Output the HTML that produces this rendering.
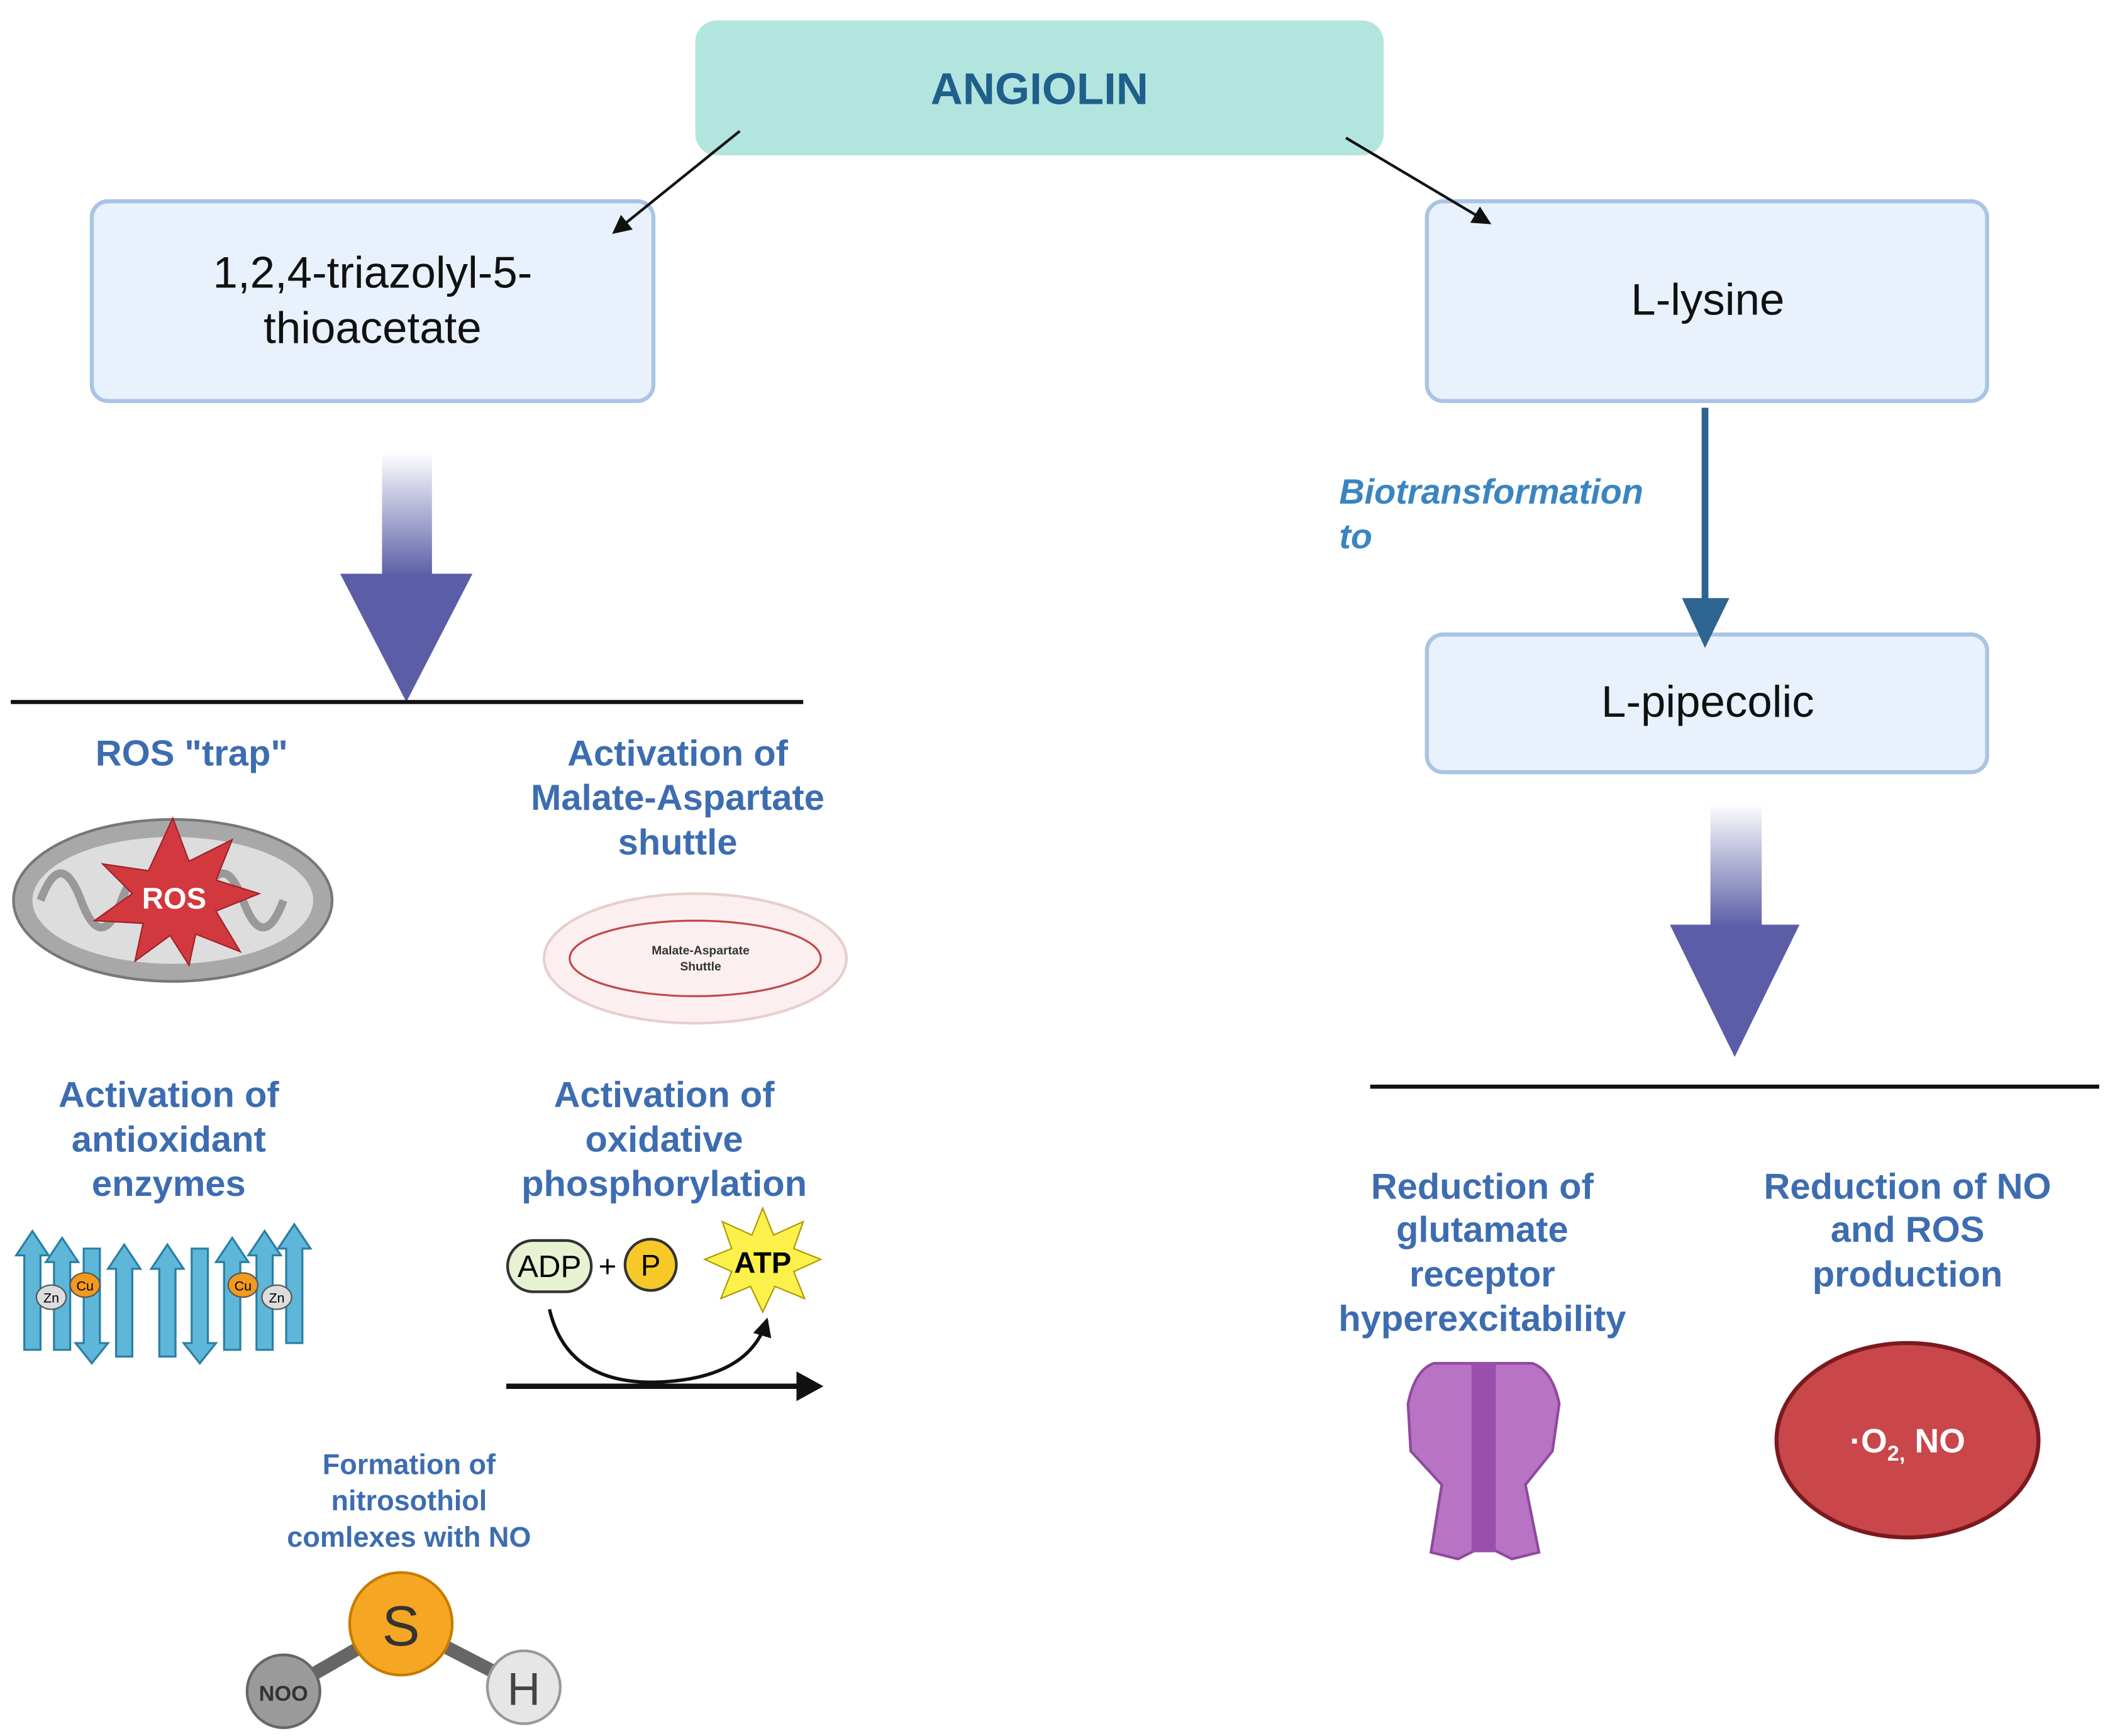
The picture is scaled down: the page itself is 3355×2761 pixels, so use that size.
<!DOCTYPE html>
<html><head><meta charset="utf-8"><style>
html,body{margin:0;padding:0;background:#fff}
svg{display:block}
text{font-family:"Liberation Sans",sans-serif}
.lb{fill:#3d6db0;font-weight:bold;font-size:27px;text-anchor:middle}
</style></head><body>
<svg width="3355" height="2761" viewBox="0 0 1563 1286" xmlns="http://www.w3.org/2000/svg">
<defs>
<linearGradient id="g" x1="0" y1="0" x2="0" y2="1"><stop offset="0" stop-color="#fff"/><stop offset="1" stop-color="#5b5ea6"/></linearGradient>
<marker id="ah" markerWidth="14" markerHeight="14" refX="12" refY="7" orient="auto" markerUnits="userSpaceOnUse"><path d="M0,0 L14,7 L0,14 z" fill="#111"/></marker>
</defs>
<rect width="1563" height="1286" fill="#fff"/>
<!-- ANGIOLIN -->
<rect x="515" y="15" width="510" height="100" rx="16" fill="#b3e5df"/>
<text x="770" y="77" text-anchor="middle" font-size="33" font-weight="bold" fill="#1f5f8b">ANGIOLIN</text>
<!-- boxes -->
<rect x="68" y="149" width="416" height="148" rx="12" fill="#e9f2fc" stroke="#a9c4e4" stroke-width="3"/>
<text x="276" y="213" text-anchor="middle" font-size="33" fill="#111">1,2,4-triazolyl-5-</text>
<text x="276" y="254" text-anchor="middle" font-size="33" fill="#111">thioacetate</text>
<rect x="1057" y="149" width="415" height="148" rx="12" fill="#e9f2fc" stroke="#a9c4e4" stroke-width="3"/>
<text x="1265" y="233" text-anchor="middle" font-size="33" fill="#111">L-lysine</text>
<rect x="1057" y="470" width="415" height="102" rx="12" fill="#e9f2fc" stroke="#a9c4e4" stroke-width="3"/>
<text x="1265" y="531" text-anchor="middle" font-size="33" fill="#111">L-pipecolic</text>
<line x1="548" y1="97" x2="455" y2="172" stroke="#111" stroke-width="2" marker-end="url(#ah)"/>
<line x1="997" y1="102" x2="1103" y2="165" stroke="#111" stroke-width="2" marker-end="url(#ah)"/>
<!-- biotransformation arrow -->
<line x1="1263" y1="302" x2="1263" y2="445" stroke="#2e6490" stroke-width="5"/>
<path d="M1246,443 L1281,443 L1263,480 z" fill="#2e6490"/>
<text x="992" y="373" font-size="26" font-style="italic" font-weight="bold" fill="#3a85c0">Biotransformation</text>
<text x="992" y="406" font-size="26" font-style="italic" font-weight="bold" fill="#3a85c0">to</text>
<!-- big arrows -->
<rect x="283" y="335" width="37" height="92" fill="url(#g)"/>
<path d="M252,425 L350,425 L301,520 z" fill="#5b5ea6"/>
<rect x="1267" y="595" width="38" height="92" fill="url(#g)"/>
<path d="M1237,685 L1333,685 L1285,783 z" fill="#5b5ea6"/>
<line x1="8" y1="520" x2="595" y2="520" stroke="#111" stroke-width="3"/>
<line x1="1015" y1="805" x2="1555" y2="805" stroke="#111" stroke-width="3"/>
<!-- labels -->
<text class="lb" x="142" y="567">ROS "trap"</text>
<text class="lb" x="502" y="567">Activation of</text>
<text class="lb" x="502" y="600">Malate-Aspartate</text>
<text class="lb" x="502" y="633">shuttle</text>
<text class="lb" x="125" y="820">Activation of</text>
<text class="lb" x="125" y="853">antioxidant</text>
<text class="lb" x="125" y="886">enzymes</text>
<text class="lb" x="492" y="820">Activation of</text>
<text class="lb" x="492" y="853">oxidative</text>
<text class="lb" x="492" y="886">phosphorylation</text>
<text class="lb" x="303" y="1092" style="font-size:21px">Formation of</text>
<text class="lb" x="303" y="1119" style="font-size:21px">nitrosothiol</text>
<text class="lb" x="303" y="1146" style="font-size:21px">comlexes with NO</text>
<text class="lb" x="1098" y="888">Reduction of</text>
<text class="lb" x="1098" y="920">glutamate</text>
<text class="lb" x="1098" y="953">receptor</text>
<text class="lb" x="1098" y="986">hyperexcitability</text>
<text class="lb" x="1413" y="888">Reduction of NO</text>
<text class="lb" x="1413" y="920">and ROS</text>
<text class="lb" x="1413" y="953">production</text>
<!-- ROS mitochondrion -->
<ellipse cx="128" cy="667" rx="118" ry="60" fill="#a8a8a8" stroke="#777" stroke-width="2"/>
<ellipse cx="128" cy="667" rx="104" ry="47" fill="#ddd"/>
<path d="M30,667 q15,-40 30,0 q15,40 30,0 q15,-40 30,0 q15,40 30,0 q15,-40 30,0 q15,40 30,0" fill="none" stroke="#999" stroke-width="6"/>
<path d="M128,606 L140,638 L172,622 L160,652 L192,662 L160,675 L178,705 L145,692 L140,715 L126,693 L100,712 L106,684 L70,682 L98,662 L76,640 L110,645 z" fill="#d2393f" stroke="#a02028"/>
<text x="129" y="673" text-anchor="middle" font-size="22" font-weight="bold" fill="#fff">ROS</text>
<!-- Malate mitochondrion -->
<ellipse cx="515" cy="710" rx="112" ry="48" fill="#fbf0ef" stroke="#e6cfcc" stroke-width="2"/>
<ellipse cx="515" cy="710" rx="93" ry="28" fill="none" stroke="#c24a4a" stroke-width="1.5"/>
<text x="519" y="707" text-anchor="middle" font-size="9" font-weight="bold" fill="#333">Malate-Aspartate</text>
<text x="519" y="719" text-anchor="middle" font-size="9" font-weight="bold" fill="#333">Shuttle</text>
<!-- enzymes -->
<g fill="#5eb6d8" stroke="#2a7fa5" stroke-width="1.5">
<path d="M18,1000 L18,930 L12,930 L24,912 L36,930 L30,930 L30,1000z"/>
<path d="M40,1000 L40,935 L34,935 L46,917 L58,935 L52,935 L52,1000z"/>
<path d="M62,925 L62,995 L56,995 L68,1010 L80,995 L74,995 L74,925z"/>
<path d="M86,1005 L86,940 L80,940 L92,922 L104,940 L98,940 L98,1005z"/>
<path d="M118,1005 L118,940 L112,940 L124,922 L136,940 L130,940 L130,1005z"/>
<path d="M142,925 L142,995 L136,995 L148,1010 L160,995 L154,995 L154,925z"/>
<path d="M166,1000 L166,935 L160,935 L172,917 L184,935 L178,935 L178,1000z"/>
<path d="M190,1000 L190,930 L184,930 L196,912 L208,930 L202,930 L202,1000z"/>
<path d="M212,995 L212,925 L206,925 L218,907 L230,925 L224,925 L224,995z"/>
</g>
<ellipse cx="38" cy="961" rx="11" ry="9" fill="#ddd" stroke="#555"/><text x="38" y="965" text-anchor="middle" font-size="10">Zn</text>
<ellipse cx="63" cy="952" rx="11" ry="9" fill="#f29a1e" stroke="#555"/><text x="63" y="956" text-anchor="middle" font-size="10">Cu</text>
<ellipse cx="180" cy="952" rx="11" ry="9" fill="#f29a1e" stroke="#555"/><text x="180" y="956" text-anchor="middle" font-size="10">Cu</text>
<ellipse cx="205" cy="961" rx="11" ry="9" fill="#ddd" stroke="#555"/><text x="205" y="965" text-anchor="middle" font-size="10">Zn</text>
<!-- ATP -->
<rect x="376" y="919" width="62" height="38" rx="19" fill="#e6f2d2" stroke="#333" stroke-width="2"/>
<text x="407" y="946" text-anchor="middle" font-size="23">ADP</text>
<text x="450" y="946" text-anchor="middle" font-size="23">+</text>
<circle cx="482" cy="937" r="19" fill="#f7c928" stroke="#333" stroke-width="2"/>
<text x="482" y="945" text-anchor="middle" font-size="22">P</text>
<path d="M565,895 L573,915 L595,905 L588,925 L608,933 L588,942 L596,962 L574,953 L565,972 L556,953 L534,962 L542,942 L522,933 L542,925 L535,905 L557,915 z" fill="#fbf14a" stroke="#aa9a00"/>
<text x="565" y="943" text-anchor="middle" font-size="22" font-weight="bold">ATP</text>
<path d="M407,970 Q420,1025 485,1024 Q555,1022 568,978" fill="none" stroke="#111" stroke-width="2.5" marker-end="url(#ah)"/>
<line x1="375" y1="1027" x2="598" y2="1027" stroke="#111" stroke-width="4"/>
<path d="M590,1016 L610,1027 L590,1038 z" fill="#111"/>
<!-- S molecule -->
<line x1="297" y1="1203" x2="210" y2="1253" stroke="#666" stroke-width="10"/>
<line x1="297" y1="1203" x2="388" y2="1250" stroke="#666" stroke-width="10"/>
<circle cx="297" cy="1203" r="38" fill="#f5a623" stroke="#c67b00" stroke-width="2"/>
<text x="297" y="1219" text-anchor="middle" font-size="42" fill="#333">S</text>
<circle cx="210" cy="1253" r="27" fill="#9a9a9a" stroke="#666" stroke-width="2"/>
<text x="210" y="1260" text-anchor="middle" font-size="16" font-weight="bold" fill="#333">NOO</text>
<circle cx="388" cy="1250" r="27" fill="#e6e6e6" stroke="#999" stroke-width="2"/>
<text x="388" y="1263" text-anchor="middle" font-size="34" fill="#444">H</text>
<!-- receptor -->
<path d="M1062,1010 L1135,1010 Q1150,1015 1155,1040 L1150,1075 L1130,1100 L1140,1150 L1120,1155 L1100,1145 L1080,1155 L1060,1150 L1068,1100 L1045,1075 L1043,1040 Q1048,1015 1062,1010z" fill="#b873c4" stroke="#8e4a9c" stroke-width="2"/>
<rect x="1090" y="1010" width="18" height="140" fill="#9a4fac"/>
<!-- red ellipse -->
<ellipse cx="1413" cy="1067" rx="97" ry="72" fill="#c9464a" stroke="#7a1a1e" stroke-width="3"/>
<text x="1413" y="1076" text-anchor="middle" font-size="25" font-weight="bold" fill="#fff">·O<tspan font-size="16" dy="6">2,</tspan><tspan dy="-6"> NO</tspan></text>
</svg>
</body></html>
